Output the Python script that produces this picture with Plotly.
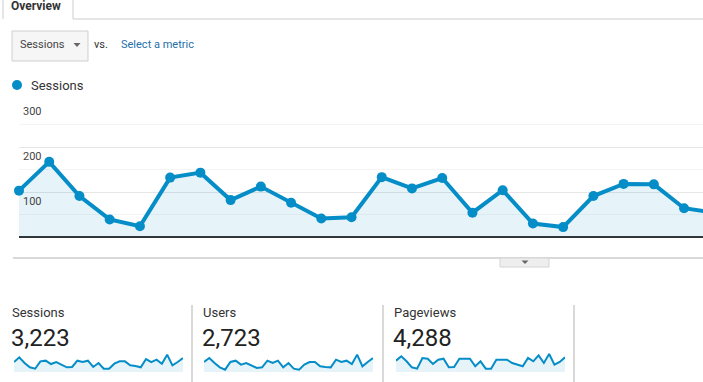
import plotly.graph_objects as go

W, H = 703, 382

# ---------------- data ----------------
main_sessions = [103, 167, 91, 39, 24, 132, 143, 82, 112, 76, 41, 44,
                 133, 108, 131, 54, 104, 30, 22, 91, 118, 117, 64, 54]
y_major = [0, 100, 200, 300]
y_minor = [50, 150, 250]
y_labels = ["100", "200", "300"]

metric_names = ["Sessions", "Users", "Pageviews"]
metric_totals = ["3,223", "2,723", "4,288"]
spark_sessions = [115, 169, 104, 54, 38, 123, 131, 92, 115, 85, 54, 58, 131, 115, 131, 58, 104,
                  38, 38, 96, 123, 123, 77, 69, 54, 150, 115, 142, 96, 200, 77, 115, 162]
spark_users = [99, 139, 89, 46, 23, 99, 112, 73, 89, 66, 40, 46, 112, 89, 112, 46, 89,
               33, 23, 73, 99, 99, 56, 50, 46, 122, 99, 112, 79, 172, 56, 99, 139]
spark_pageviews = [150, 207, 141, 62, 44, 185, 176, 106, 163, 176, 62, 66, 176, 176, 176, 75, 141,
                   44, 44, 163, 163, 163, 119, 97, 75, 185, 141, 220, 119, 238, 97, 132, 194]
spark_series = [spark_sessions, spark_users, spark_pageviews]
spark_max = [231, 198, 264]

BLUE = "#058dc7"
FILL = "rgba(5,141,199,0.10)"
FONT = "Roboto"


def px(x):
    return x / W


def py(y):
    return 1 - y / H


fig = go.Figure()

# main chart
fig.add_trace(go.Scatter(
    x=list(range(len(main_sessions))), y=main_sessions,
    mode="lines+markers", line=dict(color=BLUE, width=4),
    marker=dict(color=BLUE, size=10), fill="tozeroy", fillcolor=FILL,
    cliponaxis=False, hoverinfo="y", showlegend=False,
    xaxis="x", yaxis="y"))

# sparklines
spark_x0 = [14, 204, 396]
spark_w = 169
for i, s in enumerate(spark_series):
    k = i + 2
    fig.add_trace(go.Scatter(
        x=list(range(len(s))), y=s, mode="lines",
        line=dict(color=BLUE, width=2), fill="tozeroy", fillcolor=FILL,
        hoverinfo="skip", showlegend=False,
        xaxis=f"x{k}", yaxis=f"y{k}"))

layout = dict(
    width=W, height=H, margin=dict(l=0, r=0, t=0, b=0),
    paper_bgcolor="white", plot_bgcolor="rgba(0,0,0,0)",
    font=dict(family=FONT, color="#333"),
    xaxis=dict(domain=[px(19), 1], range=[0, (703 - 19) / 30.23],
               showgrid=False, zeroline=False, showticklabels=False, ticks="",
               showline=False, fixedrange=True),
    yaxis=dict(domain=[py(237), py(102)], range=[0, 300],
               tickvals=y_major, showticklabels=False, ticks="",
               showgrid=True, gridcolor="#e6e6e6", gridwidth=1,
               minor=dict(tickvals=y_minor, showgrid=True, gridcolor="#f4f4f4", gridwidth=1),
               zeroline=True, zerolinecolor="#333", zerolinewidth=1.5,
               showline=False, fixedrange=True),
)
for i in range(3):
    k = i + 2
    layout[f"xaxis{k}"] = dict(domain=[px(spark_x0[i]), px(spark_x0[i] + spark_w)],
                               range=[0, len(spark_series[i]) - 1], visible=False,
                               anchor=f"y{k}", fixedrange=True)
    layout[f"yaxis{k}"] = dict(domain=[py(372), py(352)], range=[0, spark_max[i]],
                               visible=False, anchor=f"x{k}", fixedrange=True)
fig.update_layout(**layout)

shapes = []


def line(x0, y0, x1, y1, color="#cccccc", width=1):
    shapes.append(dict(type="line", xref="paper", yref="paper",
                       x0=px(x0), y0=py(y0), x1=px(x1), y1=py(y1),
                       line=dict(color=color, width=width), layer="above"))


def path(pts, fill, color=None, width=0):
    d = "M " + " L ".join(f"{px(a)},{py(b)}" for a, b in pts) + " Z"
    shapes.append(dict(type="path", xref="paper", yref="paper", path=d,
                       fillcolor=fill, line=dict(color=color or fill, width=width),
                       layer="above"))


# Overview tab
shapes.append(dict(type="path", xref="paper", yref="paper",
                   path=f"M {px(3)},{py(19)} L {px(3)},{py(-1)} L {px(73)},{py(-1)} L {px(73)},{py(19)}",
                   line=dict(color="#cccccc", width=1), layer="above"))
line(73, 19, 703, 19)
# dropdown
shapes.append(dict(type="rect", xref="paper", yref="paper",
                   x0=px(12), y0=py(61), x1=px(88), y1=py(31),
                   fillcolor="#f6f6f6", line=dict(color="#cfcfcf", width=1), layer="above"))
path([(73.5, 43), (80.5, 43), (77, 47)], "#666666")
# legend dot
shapes.append(dict(type="circle", xref="paper", yref="paper",
                   x0=px(12), y0=py(90), x1=px(22), y1=py(80),
                   fillcolor=BLUE, line=dict(color=BLUE, width=0), layer="above"))
# bottom separator and toggle tab
line(13, 258, 703, 258, "#cccccc", 1.5)
shapes.append(dict(type="rect", xref="paper", yref="paper",
                   x0=px(500), y0=py(267), x1=px(549), y1=py(258),
                   fillcolor="#eeeeee", line=dict(color="#d4d4d4", width=1), layer="above"))
path([(521.5, 260.5), (528.5, 260.5), (525, 264)], "#666666")
# metric separators
for xs in [192, 383, 574]:
    line(xs, 305, xs, 382, "#cccccc", 1.5)
fig.update_layout(shapes=shapes)

ann = []


def text(x, y, s, size, color="#333", bold=False, anchor="left"):
    if bold:
        s = f"<b>{s}</b>"
    ann.append(dict(xref="paper", yref="paper", x=px(x), y=py(y), text=s,
                    showarrow=False, xanchor=anchor, yanchor="middle",
                    font=dict(size=size, color=color, family=FONT),
                    borderpad=0, borderwidth=0))


text(11, 6, "Overview", 12, "#333", bold=True)
text(20, 45, "Sessions", 11, "#444")
text(94, 44, "vs.", 11, "#333")
text(121, 45, "Select a metric", 11, "#1f6fa8")
text(31, 85, "Sessions", 13, "#333")

# y tick labels drawn through the main y axis
for v, lab in zip(y_major[1:], y_labels):
    ann.append(dict(xref="paper", yref="y", x=px(21), y=v, text=lab,
                    showarrow=False, xanchor="left", yanchor="top", yshift=-1,
                    font=dict(size=11, color="#444", family=FONT)))

label_x = [12, 203, 394]
for i in range(3):
    text(label_x[i], 312, metric_names[i], 13, "#333")
    text(label_x[i] - 1, 338, metric_totals[i], 24, "#222")

fig.update_layout(annotations=ann)

fig.write_html("out.html", config={"displayModeBar": False},
               post_script="document.body.style.margin='0';document.body.style.overflow='hidden';")
